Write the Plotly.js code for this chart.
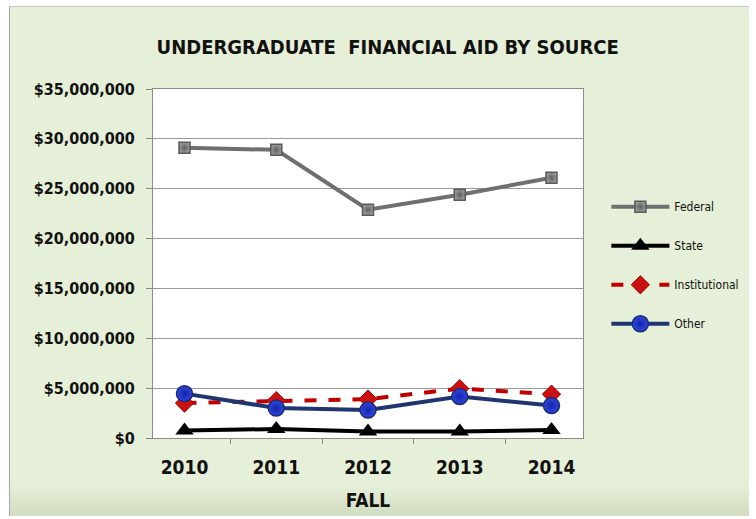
<!DOCTYPE html>
<html>
<head>
<meta charset="utf-8">
<script src="https://cdn.plot.ly/plotly-3.0.1.min.js"></script>
<style>
  html, body { margin: 0; padding: 0; background: #ffffff; width: 756px; height: 519px; overflow: hidden; }
  #frame {
    position: absolute; left: 9px; top: 6px; width: 740px; height: 510px;
    background: linear-gradient(to bottom, #e6efd7 0%, #e6efd7 94%, #d2dcc2 100%);
    border-left: 1px solid #a6a6a6; border-top: 1px solid #c8c8c8;
    box-sizing: border-box;
  }
  #chart { width: 739px; height: 509px; }
</style>
</head>
<body>
<div id="frame"><div id="chart"></div></div>
<script>
// ---- data ----
const years = ["2010", "2011", "2012", "2013", "2014"];
const federal = [29100000, 28900000, 22900000, 24400000, 26100000];
const state = [750000, 900000, 650000, 650000, 800000];
const institutional = [3500000, 3750000, 3900000, 4950000, 4400000];
const other = [4450000, 3000000, 2800000, 4150000, 3250000];
const yTicks = [0, 5000000, 10000000, 15000000, 20000000, 25000000, 30000000, 35000000];
const yTickText = ["$0", "$5,000,000", "$10,000,000", "$15,000,000", "$20,000,000", "$25,000,000", "$30,000,000", "$35,000,000"];

const FONT = "DejaVu Sans Condensed, Liberation Sans Narrow, sans-serif";

const traces = [
  {
    x: years, y: federal, name: "Federal", type: "scatter", mode: "lines+markers",
    legendgroup: "a",
    line: { color: "#6f6f6f", width: 4 },
    marker: { symbol: "square", size: 11, color: "#9a9a9a",
              line: { color: "#5a5a5a", width: 1.5 },
              gradient: { type: "radial", color: "#5f5f5f" } }
  },
  {
    x: years, y: state, name: "State", type: "scatter", mode: "lines+markers",
    legendgroup: "b",
    line: { color: "#000000", width: 4 },
    marker: { symbol: "triangle-up", size: 16, color: "#000000" }
  },
  {
    x: years, y: institutional, name: "Institutional", type: "scatter", mode: "lines+markers",
    legendgroup: "c",
    line: { color: "#c00000", width: 4, dash: "dash" },
    marker: { symbol: "diamond", size: 14, color: "#cc1010",
              line: { color: "#a00000", width: 1 } }
  },
  {
    x: years, y: other, name: "Other", type: "scatter", mode: "lines+markers",
    legendgroup: "d",
    line: { color: "#1f3570", width: 4 },
    marker: { symbol: "circle", size: 16, color: "#2f47e0",
              line: { color: "#1a2a70", width: 1.5 },
              gradient: { type: "radial", color: "#1424a8" } }
  }
];

const layout = {
  width: 739, height: 509,
  margin: { l: 143, r: 166, t: 82, b: 78 },
  paper_bgcolor: "rgba(0,0,0,0)",
  plot_bgcolor: "#ffffff",
  showlegend: true,
  title: {
    text: "<b>UNDERGRADUATE  FINANCIAL AID BY SOURCE</b>",
    font: { family: FONT, size: 20, color: "#111111" },
    x: 0.511, xanchor: "center", xref: "container",
    y: 0.921, yanchor: "middle", yref: "container"
  },
  xaxis: {
    type: "category",
    tickson: "boundaries",
    ticks: "outside", ticklen: 5, tickcolor: "#8c8c8c",
    ticklabelstandoff: 12,
    showline: true, linecolor: "#8c8c8c", linewidth: 1, mirror: true,
    showgrid: false,
    tickfont: { family: FONT, size: 19, color: "#111111", weight: "bold" },
    title: { text: "<b>FALL</b>", font: { family: FONT, size: 19, color: "#111111" }, standoff: 16 },
    fixedrange: true
  },
  yaxis: {
    range: [0, 35000000],
    tickmode: "array", tickvals: yTicks, ticktext: yTickText,
    ticks: "outside", ticklen: 6, tickcolor: "#8c8c8c",
    ticklabelstandoff: 8,
    showline: true, linecolor: "#8c8c8c", linewidth: 1, mirror: true,
    showgrid: true, gridcolor: "#9a9a9a", gridwidth: 1,
    zeroline: false,
    tickfont: { family: FONT, size: 16, color: "#111111", weight: "bold" },
    fixedrange: true
  },
  legend: {
    xref: "container", yref: "container",
    x: 0.807, xanchor: "left",
    y: 0.636, yanchor: "top",
    bgcolor: "rgba(0,0,0,0)",
    font: { family: FONT, size: 12, color: "#111111" },
    tracegroupgap: 20,
    itemwidth: 58,
    traceorder: "grouped"
  }
};

Plotly.newPlot("chart", traces, layout, { displayModeBar: false, staticPlot: true });
</script>
</body>
</html>
